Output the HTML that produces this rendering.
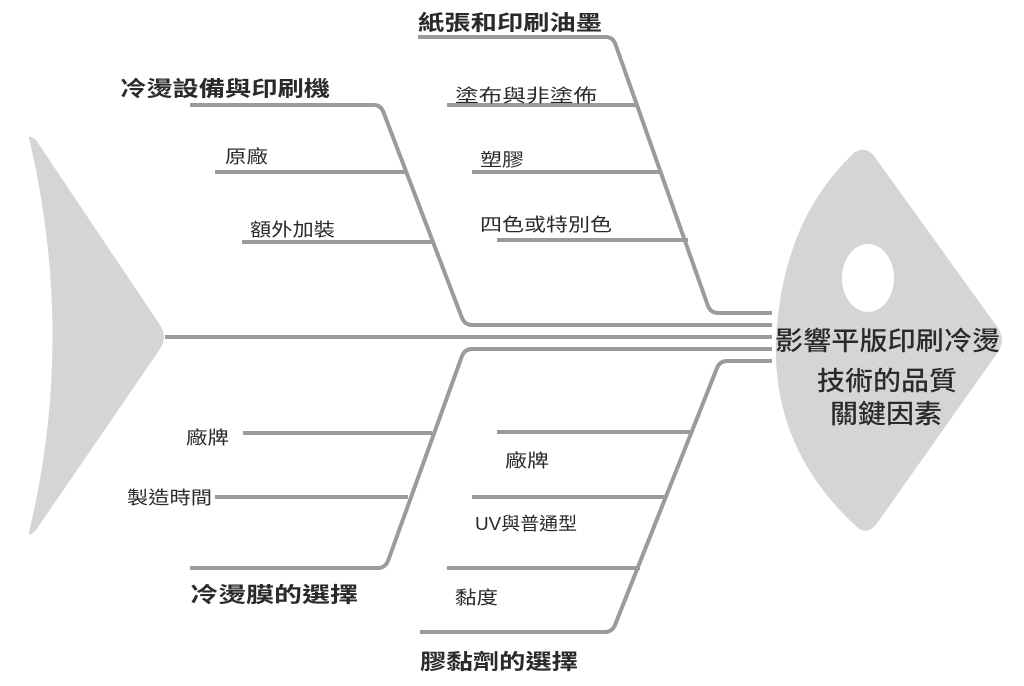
<!DOCTYPE html>
<html><head><meta charset="utf-8"><style>
body{margin:0;background:#fff;}
svg{display:block}
text{font-family:"Liberation Sans","Noto Sans CJK TC",sans-serif;fill:#2a2a2a;}
</style></head><body>
<svg width="1024" height="686" viewBox="0 0 1024 686" xmlns="http://www.w3.org/2000/svg">
<path d="M30,142 Q26,132 36,140 L160,325 Q168,337 160,349 L36,530 Q26,540 30,528 Q75,337 30,142 Z" fill="#d4d6d6"/>
<path d="M855,152 Q866,146 874,156 L998,328 Q1006,340 998,352 L878,522 Q868,536 858,528 Q772,450 776,340 Q782,220 855,152 Z" fill="#d4d6d6"/>
<ellipse cx="868" cy="278" rx="26" ry="34" fill="#fff"/>
<g fill="none" stroke="#999b9c" stroke-width="4" stroke-linejoin="round">
<path d="M165,337 H772"/>
<path d="M190,105 H374 Q380,105 383,111 L462,318 Q465,325 472,325 H772"/>
<path d="M215,172 H407"/><path d="M242,242 H433"/>
<path d="M418,37 H606 Q612,37 615,43 L708,306 Q711,313 718,313 H772"/>
<path d="M447,105 H637"/><path d="M472,172 H662"/><path d="M497,240 H688"/>
<path d="M772,349 H472 Q465,349 462,356 L388,561 Q385,568 378,568 H190"/>
<path d="M243,433 H432"/><path d="M215,497 H408"/>
<path d="M772,361 H727 Q720,361 717,368 L615,625 Q612,632 605,632 H420"/>
<path d="M497,432 H690"/><path d="M472,497 H665"/><path d="M447,568 H640"/>
</g>
<g font-size="21" font-weight="bold" lengthAdjust="spacingAndGlyphs">
<text x="120" y="96" textLength="210" lengthAdjust="spacingAndGlyphs">冷燙設備與印刷機</text>
<text x="418" y="30" textLength="184" lengthAdjust="spacingAndGlyphs">紙張和印刷油墨</text>
<text x="190" y="602" textLength="168" lengthAdjust="spacingAndGlyphs">冷燙膜的選擇</text>
<text x="420" y="669" textLength="158" lengthAdjust="spacingAndGlyphs">膠黏劑的選擇</text>
</g>
<g font-size="18">
<text x="225" y="163" textLength="43" lengthAdjust="spacingAndGlyphs">原廠</text>
<text x="250" y="236" textLength="85" lengthAdjust="spacingAndGlyphs">額外加裝</text>
<text x="455" y="102" textLength="142" lengthAdjust="spacingAndGlyphs">塗布與非塗佈</text>
<text x="480" y="166" textLength="44" lengthAdjust="spacingAndGlyphs">塑膠</text>
<text x="480" y="231" textLength="132" lengthAdjust="spacingAndGlyphs">四色或特別色</text>
<text x="186" y="444" textLength="43" lengthAdjust="spacingAndGlyphs">廠牌</text>
<text x="127" y="504" textLength="85" lengthAdjust="spacingAndGlyphs">製造時間</text>
<text x="505" y="467" textLength="44" lengthAdjust="spacingAndGlyphs">廠牌</text>
<text x="475" y="530" textLength="102" lengthAdjust="spacingAndGlyphs">UV與普通型</text>
<text x="455" y="604" textLength="43" lengthAdjust="spacingAndGlyphs">黏度</text>
</g>
<g font-size="26" font-weight="500">
<text x="775" y="350" textLength="225" lengthAdjust="spacingAndGlyphs">影響平版印刷冷燙</text>
<text x="817" y="390" textLength="140" lengthAdjust="spacingAndGlyphs">技術的品質</text>
<text x="830" y="423" textLength="112" lengthAdjust="spacingAndGlyphs">關鍵因素</text>
</g>
</svg>
</body></html>
